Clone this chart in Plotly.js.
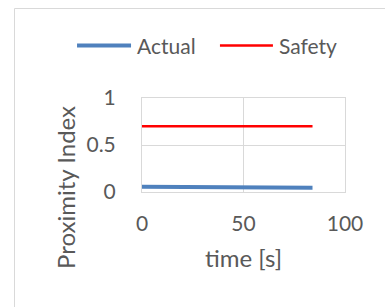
<!DOCTYPE html>
<html><head><meta charset="utf-8">
<script src="https://cdn.plot.ly/plotly-3.0.1.min.js"></script>
<style>
html,body{margin:0;padding:0;background:#fff;}
#chart{width:385px;height:307px;}
</style></head>
<body>
<div id="chart"></div>
<script>
const time = [0, 21, 42, 63, 84];
const actual = [0.055, 0.052, 0.050, 0.047, 0.044];
const safety = [0.70, 0.70, 0.70, 0.70, 0.70];
const seriesNames = ["Actual", "Safety"];
const seriesColors = ["#4f81bd", "#ff0000"];
const seriesWidths = [4, 2.5];
const xTitle = "time [s]";
const yTitle = "Proximity Index";

const FAM = "Lato, 'Open Sans', sans-serif";
function f(s){ return {family: FAM, size: s, color: "#595959"}; }
const traces = [
  {x: time, y: actual, name: seriesNames[0], mode: "lines", line: {color: seriesColors[0], width: seriesWidths[0]}},
  {x: time, y: safety, name: seriesNames[1], mode: "lines", line: {color: seriesColors[1], width: seriesWidths[1]}}
];

// legend drawn as paper-referenced samples + text
const legY = 1.559;
const legLines = [[-0.320, -0.054], [0.384, 0.645]];
const legText = [-0.034, 0.665];
const shapes = [
  {type: "rect", xref: "paper", yref: "paper", x0: -0.628, x1: 2, y0: -2, y1: 1.952,
   line: {color: "#d9d9d9", width: 1}, fillcolor: "rgba(0,0,0,0)", layer: "below"}
];
const annotations = [
  {text: xTitle, xref: "paper", yref: "paper", x: 0.5, y: -0.70, xanchor: "center", yanchor: "middle",
   showarrow: false, font: f(24)},
  {text: yTitle, xref: "paper", yref: "paper", x: -0.374, y: 0.043, xanchor: "center", yanchor: "middle",
   textangle: -90, showarrow: false, font: f(24)}
];
seriesNames.forEach((n, i) => {
  shapes.push({type: "line", xref: "paper", yref: "paper", x0: legLines[i][0], x1: legLines[i][1], y0: legY, y1: legY,
               line: {color: seriesColors[i], width: seriesWidths[i]}});
  annotations.push({text: n, xref: "paper", yref: "paper", x: legText[i], y: legY, xanchor: "left", yanchor: "middle",
                    showarrow: false, font: f(21)});
});

const layout = {
  width: 385, height: 307,
  margin: {l: 142, r: 40, t: 98, b: 115, pad: 0},
  paper_bgcolor: "#fff", plot_bgcolor: "#fff",
  font: f(21),
  showlegend: false,
  xaxis: {range: [0, 100], dtick: 50, tick0: 0, showgrid: true, gridcolor: "#d9d9d9", gridwidth: 1,
          zeroline: false, showline: true, mirror: true, linecolor: "#d9d9d9", linewidth: 1,
          ticks: "", ticklabelstandoff: 13, tickfont: f(21), fixedrange: true},
  yaxis: {range: [0, 1], dtick: 0.5, tick0: 0, showgrid: true, gridcolor: "#d9d9d9", gridwidth: 1,
          zeroline: false, showline: true, mirror: true, linecolor: "#d9d9d9", linewidth: 1,
          ticks: "", ticklabelstandoff: 21, tickfont: f(21), fixedrange: true},
  shapes: shapes,
  annotations: annotations
};
Plotly.newPlot("chart", traces, layout, {displayModeBar: false, staticPlot: true});
</script>
</body></html>
